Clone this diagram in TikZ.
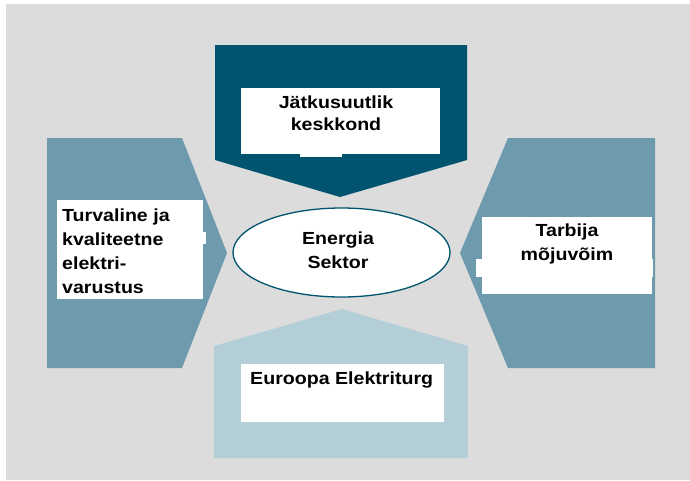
\documentclass[tikz,border=0pt]{standalone}
\usepackage{fontspec}
\setmainfont[FakeStretch=1.12]{Liberation Sans}
\usetikzlibrary{shapes.geometric}
\definecolor{bg}{HTML}{DCDCDC}
\definecolor{deepteal}{HTML}{00546F}
\definecolor{midteal}{HTML}{6D9AAD}
\definecolor{paleteal}{HTML}{B4CED7}
\begin{document}
\begin{tikzpicture}[x=1pt,y=-1pt,
  lbl/.style={font=\fontsize{17.5}{23.5}\selectfont\bfseries, inner sep=0pt, text=black, anchor=base},
  panel/.style={fill=white, draw=none, inner sep=0pt, rectangle}]
\useasboundingbox (0,0) rectangle (690,480);
\fill[white] (0,0) rectangle (690,480);
\fill[bg] (6,4) rectangle (690,480);

% four arrow-shaped blocks pointing at the centre
\fill[deepteal] (215,45) -- (467,45) -- (467,160) -- (340,197) -- (215,160) -- cycle;
\fill[midteal] (47,138) -- (182,138) -- (227,253) -- (182,368) -- (47,368) -- cycle;
\fill[midteal] (655,138) -- (508,138) -- (460,253) -- (508,368) -- (655,368) -- cycle;
\fill[paleteal] (214,346) -- (342,309) -- (468,346) -- (468,458) -- (214,458) -- cycle;

% white label panels
\node[panel, minimum width=199pt, minimum height=66pt] (toppanel) at (340.5,121) {};
\fill[white] (300,153) rectangle (342,157);
\node[panel, minimum width=146pt, minimum height=99pt] (leftpanel) at (130,249.5) {};
\fill[white] (202,232) rectangle (206,244);
\node[panel, minimum width=170pt, minimum height=77pt] (rightpanel) at (567,255.5) {};
\fill[white] (476,259) rectangle (653,277);
\node[panel, minimum width=203pt, minimum height=58pt] (bottompanel) at (342.5,393) {};

% central ellipse
\node[ellipse, draw=deepteal, line width=1.3pt, fill=white, minimum width=217pt, minimum height=89pt, inner sep=0pt] (sector) at (341.5,252.5) {};

% labels (base anchor sits on the last line of a multi-line label)
\node[lbl, align=center, font=\fontsize{17.5}{21.5}\selectfont\bfseries] (toptext) at (336,130) {Jätkusuutlik\\keskkond};
\node[lbl, align=left, anchor=base west, font=\fontsize{17.5}{24}\selectfont\bfseries] (lefttext) at (62,293) {Turvaline ja\\kvaliteetne\\elektri-\\varustus};
\node[lbl, align=center] (righttext) at (567,260) {Tarbija\\mõjuvõim};
\node[lbl, anchor=base west] (bottomtext) at (250,384) {Euroopa Elektriturg};
\node[lbl, align=center] (centertext) at (338,268) {Energia\\Sektor};
\end{tikzpicture}
\end{document}
